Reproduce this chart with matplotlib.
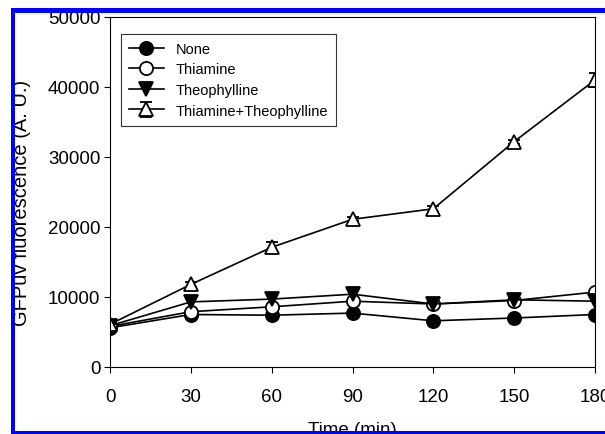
import numpy as np
import matplotlib.pyplot as plt
from matplotlib.patches import Rectangle

plt.rcParams['font.family'] = ['Liberation Sans', 'DejaVu Sans']
plt.rcParams['xtick.direction'] = 'out'
plt.rcParams['ytick.direction'] = 'out'

time = [0, 30, 60, 90, 120, 150, 180]
none = [5600, 7500, 7400, 7700, 6600, 7000, 7500]
thiamine = [5800, 7900, 8600, 9400, 9000, 9500, 10700]
theophylline = [5900, 9300, 9700, 10400, 9000, 9600, 9400]
both = [6100, 11800, 17100, 21100, 22600, 32200, 41000]
both_err = [400, 400, 700, 300, 400, 300, 1000]

W, H = 605, 435
fig = plt.figure(figsize=(W / 100, H / 100), dpi=100)
ax = fig.add_axes([110 / W, 1 - 368 / H, 485 / W, 350 / H])

kw = dict(color='k', lw=1.2, ms=9.5, mew=1.3, capsize=4.5, elinewidth=1.2, capthick=1.2)
ax.errorbar(time, none, marker='o', mfc='k', label='None', **kw)
ax.errorbar(time, thiamine, marker='o', mfc='white', label='Thiamine', **kw)
ax.errorbar(time, theophylline, marker='v', mfc='k', label='Theophylline', **kw)
ax.errorbar(time, both, yerr=both_err, marker='^', mfc='white',
            label='Thiamine+Theophylline', **kw)

ax.set_xlim(0, 180)
ax.set_ylim(0, 50000)
ax.set_xticks(time)
ax.set_yticks(np.arange(0, 50001, 10000))
ax.tick_params(labelsize=13.5, length=4, width=0.8)
ax.tick_params(axis='x', pad=11)
ax.tick_params(axis='y', pad=3)
for s in ax.spines.values():
    s.set_linewidth(0.8)
ax.set_xlabel('Time (min)', fontsize=13.5, labelpad=12)
ax.set_ylabel('GFPuv fluorescence (A. U.)', fontsize=14.5)
ax.yaxis.set_label_coords(-0.163, 0.471)

leg = ax.legend(loc='upper left', bbox_to_anchor=(0.022, 0.952), fontsize=10.5,
                frameon=True, fancybox=False, edgecolor='k', handlelength=2.4,
                borderpad=0.55, labelspacing=0.45, handletextpad=0.8,
                borderaxespad=0)
leg.get_frame().set_linewidth(0.8)

# blue frame of the cropped figure
def band(x0, y0, w, h, c):
    fig.add_artist(Rectangle((x0 / W, 1 - (y0 + h) / H), w / W, h / H,
                             transform=fig.transFigure, color=c, lw=0, zorder=10))

band(0, 0, W, 9, 'white')
band(0, 0, 11, H, 'white')
band(11, 9, W, 5, 'blue')
band(11, 9, 4, H, 'blue')
band(11, 432, W, 3, 'blue')

fig.savefig('out.png', dpi=100)
